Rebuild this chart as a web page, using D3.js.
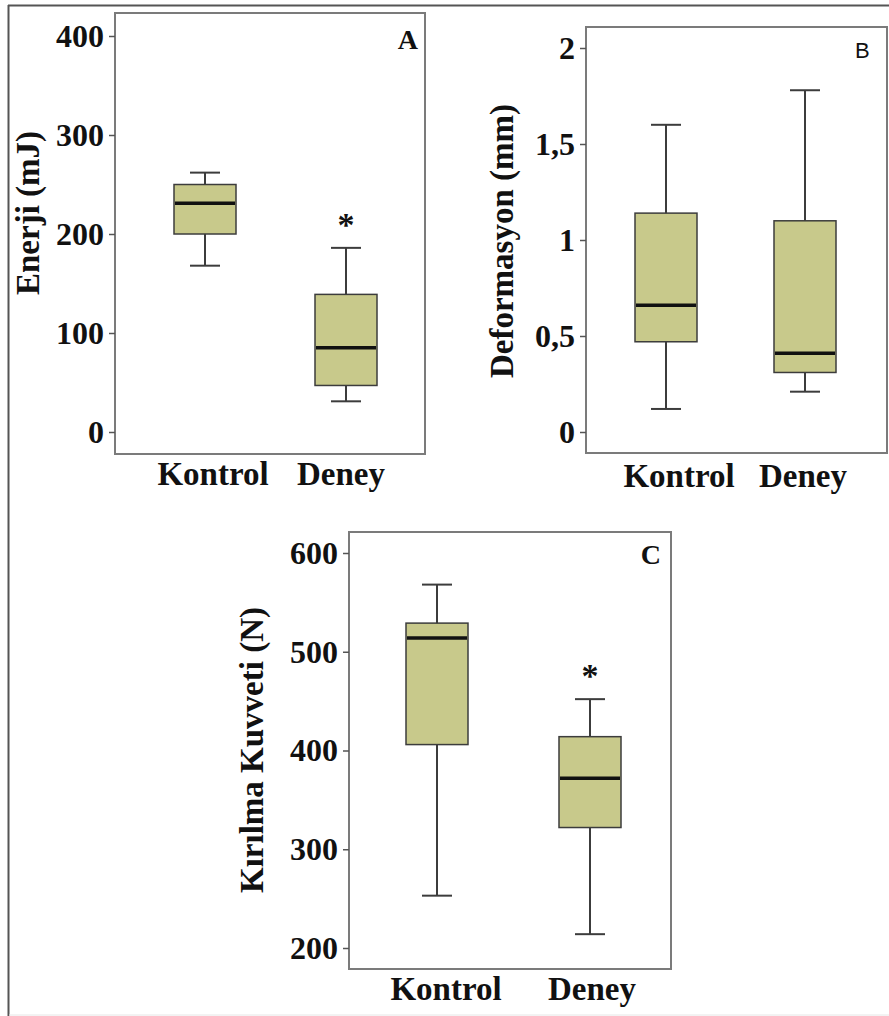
<!DOCTYPE html>
<html>
<head>
<meta charset="utf-8">
<script src="https://cdn.jsdelivr.net/npm/d3@7"></script>
<style>
  body { margin: 0; background: #fff; }
  svg text { font-family: 'Liberation Serif', 'Times New Roman', serif; font-weight: bold; fill: #111; }
</style>
</head>
<body>
<div id="chart"></div>
<script>
(() => {
  // Kategoriler
  const categories = ['Kontrol', 'Deney'];

  // Beş sayı özeti: [min, Q1, medyan, Q3, max]
  const energyKontrol = [168, 200, 231, 250, 262];
  const energyDeney = [31, 47, 85, 139, 186];
  const deformKontrol = [0.12, 0.47, 0.66, 1.14, 1.6];
  const deformDeney = [0.21, 0.31, 0.41, 1.10, 1.78];
  const forceKontrol = [253, 406, 514, 529, 568];
  const forceDeney = [214, 322, 372, 414, 452];

  // Eksen etiketleri
  const energyTicks = [0, 100, 200, 300, 400];
  const deformTicks = [0, 0.5, 1, 1.5, 2];
  const deformTickLabels = ['0', '0,5', '1', '1,5', '2'];
  const forceTicks = [200, 300, 400, 500, 600];

  // Anlamlı fark işareti
  const significant = [false, true];

  const boxFill = '#c8c98b';
  const boxStroke = '#3c3c3c';

  const svg = d3.select('#chart')
    .append('svg')
    .attr('width', 889)
    .attr('height', 1016);

  // Dış çerçeve
  svg.append('line').attr('x1', 8.5).attr('x2', 8.5).attr('y1', 5).attr('y2', 1016)
    .attr('stroke', '#555').attr('stroke-width', 2);
  svg.append('line').attr('x1', 8).attr('x2', 889).attr('y1', 5.5).attr('y2', 5.5)
    .attr('stroke', '#555').attr('stroke-width', 2);
  svg.append('line').attr('x1', 9).attr('x2', 889).attr('y1', 1015).attr('y2', 1015)
    .attr('stroke', '#e6e6e6').attr('stroke-width', 1);

  const panels = [
    {
      data: [energyKontrol, energyDeney], ticks: energyTicks, tickLabels: energyTicks.map(String),
      domain: [0, 400], range: [432, 36], frame: [115, 13, 425, 454],
      boxRange: [205, 346], labelRange: [213, 341], labelY: 485,
      title: 'Enerji (mJ)', titlePos: [28, 213],
      letter: 'A', letterPos: [418, 49], letterSans: false, stars: true
    },
    {
      data: [deformKontrol, deformDeney], ticks: deformTicks, tickLabels: deformTickLabels,
      domain: [0, 2], range: [432, 48], frame: [586, 27, 887, 453],
      boxRange: [666, 805], labelRange: [679, 803], labelY: 487,
      title: 'Deformasyon (mm)', titlePos: [502, 241],
      letter: 'B', letterPos: [855, 58], letterSans: true, stars: false
    },
    {
      data: [forceKontrol, forceDeney], ticks: forceTicks, tickLabels: forceTicks.map(String),
      domain: [200, 600], range: [948, 553], frame: [349, 532, 671, 969],
      boxRange: [437, 590], labelRange: [446, 592], labelY: 1000,
      title: 'Kırılma Kuvveti (N)', titlePos: [252, 750],
      letter: 'C', letterPos: [661, 564], letterSans: false, stars: true
    }
  ];

  panels.forEach(p => {
    const g = svg.append('g');
    const [fx0, fy0, fx1, fy1] = p.frame;

    const y = d3.scaleLinear().domain(p.domain).range(p.range);
    const x = d3.scalePoint().domain(categories).range(p.boxRange);
    const xl = d3.scalePoint().domain(categories).range(p.labelRange);

    // Çerçeve
    g.append('rect')
      .attr('x', fx0).attr('y', fy0)
      .attr('width', fx1 - fx0).attr('height', fy1 - fy0)
      .attr('fill', 'none').attr('stroke', '#7b7b7b').attr('stroke-width', 2);

    // Y ekseni
    const axis = g.append('g')
      .attr('transform', `translate(${fx0},0)`)
      .call(d3.axisLeft(y).tickValues(p.ticks).tickSize(6).tickPadding(5)
        .tickFormat((d, i) => p.tickLabels[i]));
    axis.select('.domain').remove();
    axis.selectAll('.tick line').attr('stroke', '#555').attr('stroke-width', 1.5);
    axis.selectAll('.tick text')
      .attr('font-family', "'Liberation Serif', serif")
      .attr('font-weight', 'bold')
      .attr('font-size', 32)
      .attr('fill', '#111');

    const boxW = 62, capW = 30;

    const box = g.selectAll('.box')
      .data(p.data)
      .enter()
      .append('g')
      .attr('class', 'box');

    // Bıyıklar
    box.append('line')
      .attr('x1', (d, i) => x(categories[i])).attr('x2', (d, i) => x(categories[i]))
      .attr('y1', d => y(d[0])).attr('y2', d => y(d[4]))
      .attr('stroke', boxStroke).attr('stroke-width', 2);
    [0, 4].forEach(k => {
      box.append('line')
        .attr('x1', (d, i) => x(categories[i]) - capW / 2)
        .attr('x2', (d, i) => x(categories[i]) + capW / 2)
        .attr('y1', d => y(d[k])).attr('y2', d => y(d[k]))
        .attr('stroke', boxStroke).attr('stroke-width', 2);
    });

    // Kutular
    box.append('rect')
      .attr('x', (d, i) => x(categories[i]) - boxW / 2)
      .attr('y', d => y(d[3]))
      .attr('width', boxW)
      .attr('height', d => y(d[1]) - y(d[3]))
      .attr('fill', boxFill)
      .attr('stroke', boxStroke)
      .attr('stroke-width', 1.5);

    // Medyan
    box.append('line')
      .attr('x1', (d, i) => x(categories[i]) - boxW / 2 + 1)
      .attr('x2', (d, i) => x(categories[i]) + boxW / 2 - 1)
      .attr('y1', d => y(d[2])).attr('y2', d => y(d[2]))
      .attr('stroke', '#111').attr('stroke-width', 3.5);

    // Yıldız
    if (p.stars) {
      box.filter((d, i) => significant[i])
        .append('text')
        .attr('x', (d, i) => x(categories[1]))
        .attr('y', d => y(d[4]) - 12)
        .attr('text-anchor', 'middle')
        .attr('font-size', 34)
        .text('*');
    }

    // Kategori etiketleri
    g.selectAll('.cat')
      .data(categories)
      .enter()
      .append('text')
      .attr('class', 'cat')
      .attr('x', d => xl(d))
      .attr('y', p.labelY)
      .attr('text-anchor', 'middle')
      .attr('font-size', 33)
      .text(d => d);

    // Eksen başlığı
    g.append('text')
      .attr('transform', `translate(${p.titlePos[0]},${p.titlePos[1]}) rotate(-90)`)
      .attr('text-anchor', 'middle')
      .attr('dominant-baseline', 'central')
      .attr('font-size', 33)
      .text(p.title);

    // Panel harfi
    const letter = g.append('text')
      .attr('x', p.letterPos[0])
      .attr('y', p.letterPos[1])
      .text(p.letter);
    if (p.letterSans) {
      letter.style('font-family', "'Liberation Sans', Arial, sans-serif")
        .style('font-weight', 'normal')
        .attr('font-size', 22);
    } else {
      letter.attr('text-anchor', 'end').attr('font-size', 28);
    }
  });
})();
</script>
</body>
</html>
